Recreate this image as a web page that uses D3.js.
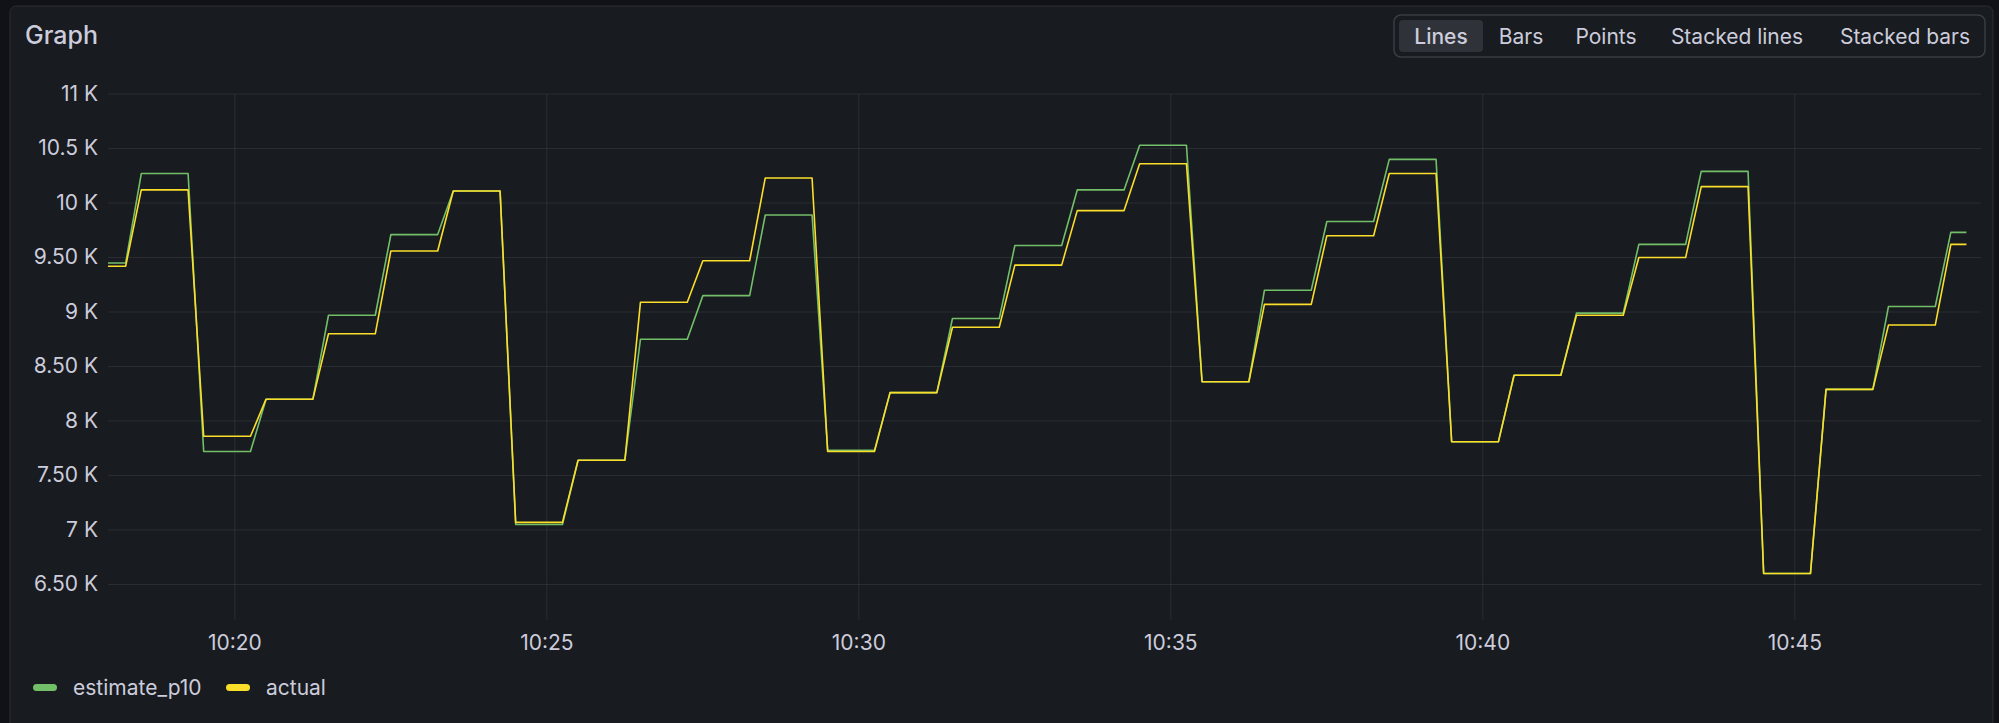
<!DOCTYPE html>
<html>
<head>
<meta charset="utf-8">
<script src="https://cdn.jsdelivr.net/npm/d3@7"></script>
<style>
  html, body { margin: 0; padding: 0; background: #111217; }
  svg { display: block; }
  text { font-family: Inter, "Noto Sans", sans-serif; fill: #ccccdc; }
</style>
</head>
<body>
<svg id="chart" width="1999" height="723"></svg>
<script>
// one value per minute, first slot starts 10:17:30
var slotStart = "10:17:30";
var estimate = [9450, 10270, 7720, 8200, 8970, 9710, 10110, 7050, 7640, 8750, 9150, 9890,
  7730, 8260, 8940, 9610, 10120, 10530, 8360, 9200, 9830, 10400, 7810, 8420, 8990, 9620,
  10290, 6600, 8290, 9050, 9730];
var actual = [9420, 10120, 7860, 8200, 8800, 9560, 10110, 7070, 7640, 9090, 9470, 10230,
  7720, 8260, 8860, 9430, 9930, 10360, 8360, 9070, 9700, 10270, 7810, 8420, 8970, 9500,
  10150, 6600, 8290, 8880, 9620];
var yTicks = [6500, 7000, 7500, 8000, 8500, 9000, 9500, 10000, 10500, 11000];
var yTickLabels = ["6.50 K", "7 K", "7.50 K", "8 K", "8.50 K", "9 K", "9.50 K", "10 K", "10.5 K", "11 K"];
var xTicks = ["10:20", "10:25", "10:30", "10:35", "10:40", "10:45"];
var buttons = ["Lines", "Bars", "Points", "Stacked lines", "Stacked bars"];
var seriesNames = ["estimate_p10", "actual"];
var colors = ["#73bf69", "#fade2a"];

var parse = d3.timeParse("%H:%M:%S");
var parseHM = d3.timeParse("%H:%M");
var svg = d3.select("#chart");

svg.append("rect").attr("x", 10).attr("y", 6).attr("width", 1983).attr("height", 730)
  .attr("rx", 6).attr("fill", "#181b1f").attr("stroke", "#2a2d33");
svg.append("text").attr("x", 25).attr("y", 44).attr("font-size", 25).attr("font-weight", 500).text("Graph");

// radio buttons
var bx = [1441, 1521, 1606, 1737, 1905];
svg.append("rect").attr("x", 1394).attr("y", 15).attr("width", 591).attr("height", 42)
  .attr("rx", 7).attr("fill", "none").attr("stroke", "#3a3d44").attr("stroke-width", 1.5);
svg.append("rect").attr("x", 1399).attr("y", 20).attr("width", 84).attr("height", 32)
  .attr("rx", 4).attr("fill", "#2f3238");
buttons.forEach(function(b, i) {
  svg.append("text").attr("x", bx[i]).attr("y", 44).attr("text-anchor", "middle")
    .attr("font-size", 21).attr("fill", i === 0 ? "#e6e6ef" : "#b5b5c3")
    .attr("font-weight", i === 0 ? 500 : 400).text(b);
});

var x = d3.scaleTime().domain([parse("10:17:58"), parse("10:47:59")]).range([108, 1981]);
var y = d3.scaleLinear().domain([6174, 11000]).range([620, 94]);

var grid = svg.append("g").attr("stroke", "rgba(204,204,220,0.1)");
yTicks.forEach(function(v) {
  grid.append("line").attr("x1", 108).attr("x2", 1981).attr("y1", y(v)).attr("y2", y(v));
});
xTicks.forEach(function(t) {
  grid.append("line").attr("x1", x(parseHM(t))).attr("x2", x(parseHM(t))).attr("y1", 94).attr("y2", 620);
});

svg.append("g").selectAll("text").data(yTicks).join("text")
  .attr("x", 98).attr("y", function(d) { return y(d) + 7; }).attr("text-anchor", "end")
  .attr("font-size", 21).text(function(d, i) { return yTickLabels[i]; });
svg.append("g").selectAll("text").data(xTicks).join("text")
  .attr("x", function(d) { return x(parseHM(d)); }).attr("y", 650).attr("text-anchor", "middle")
  .attr("font-size", 21).text(function(d) { return d; });

// each value held 45 s, then a 15 s ramp to the next
function points(vals) {
  var t0 = parse(slotStart).getTime(), pts = [];
  vals.forEach(function(v, i) {
    var s = t0 + i * 60000;
    pts.push([s, v]);
    if (i < vals.length - 1) pts.push([s + 45000, v]);
  });
  pts.push([t0 + (vals.length - 1) * 60000 + 15000, vals[vals.length - 1]]);
  return pts;
}
svg.append("clipPath").attr("id", "clip").append("rect")
  .attr("x", 108).attr("y", 80).attr("width", 1873).attr("height", 560);
var line = d3.line().x(function(d) { return x(new Date(d[0])); }).y(function(d) { return y(d[1]); });
[estimate, actual].forEach(function(s, i) {
  svg.append("path").datum(points(s)).attr("clip-path", "url(#clip)")
    .attr("fill", "none").attr("stroke", colors[i]).attr("stroke-width", 1.6)
    .attr("stroke-linejoin", "round").attr("d", line);
});

// legend
var lx = [33, 226];
seriesNames.forEach(function(n, i) {
  svg.append("rect").attr("x", lx[i]).attr("y", 684).attr("width", 24).attr("height", 7)
    .attr("rx", 3.5).attr("fill", colors[i]);
  svg.append("text").attr("x", lx[i] + 40).attr("y", 695).attr("font-size", 21).text(n);
});
</script>
</body>
</html>
